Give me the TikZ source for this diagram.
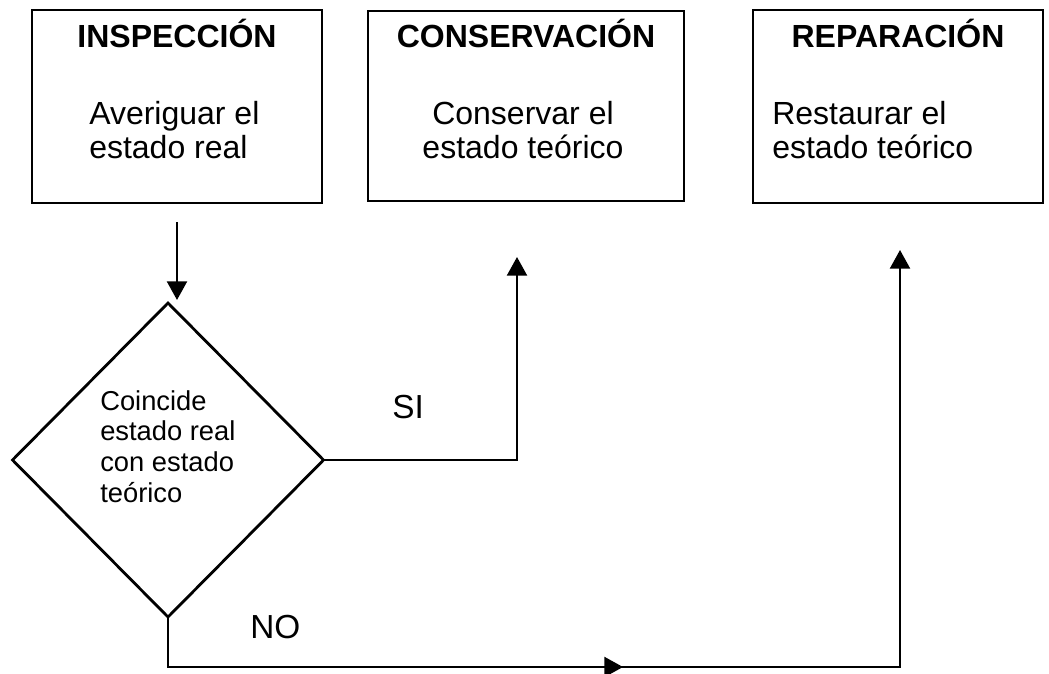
\documentclass[tikz,border=0pt]{standalone}
\usepackage{fontspec}
\setmainfont{Liberation Sans}
\usetikzlibrary{shapes.geometric,arrows.meta}
\begin{document}
\begin{tikzpicture}[x=0.75pt,y=-0.75pt,
  boxstyle/.style={draw,line width=1.7pt,rectangle,inner sep=0pt,outer sep=0pt},
  titlefont/.style={font=\fontsize{24}{27}\selectfont\bfseries,inner sep=0pt},
  bodyfont/.style={font=\fontsize{24}{25}\selectfont,inner sep=0pt},
  diafont/.style={font=\fontsize{20.5}{23}\selectfont,inner sep=0pt,align=left},
  labelfont/.style={font=\fontsize{25}{28}\selectfont,inner sep=0pt},
  decision/.style={draw,diamond,line width=2.1pt,inner sep=0pt,outer sep=0pt},
  conn/.style={line width=1.7pt},
  arr/.style={-{Triangle[length=14pt,width=15pt]}}
]
\useasboundingbox (0,0) rectangle (1049,674);

% boxes
\node[boxstyle,minimum width=217.5pt,minimum height=144.75pt] (box1) at (177,106.5) {};
\node[boxstyle,minimum width=237pt,minimum height=142.5pt] (box2) at (526,106) {};
\node[boxstyle,minimum width=217.5pt,minimum height=144.75pt] (box3) at (898,106.5) {};

% box texts (base anchor = baseline of last line)
\node[titlefont,anchor=base] (t1) at (177,48) {INSPECCIÓN};
\node[bodyfont,anchor=base west,align=left] (b1) at (89,158) {Averiguar el\\estado real};
\node[titlefont,anchor=base] (t2) at (526,48) {CONSERVACIÓN};
\node[bodyfont,anchor=base,align=center] (b2) at (523,158) {Conservar el\\estado teórico};
\node[titlefont,anchor=base] (t3) at (898,48) {REPARACIÓN};
\node[bodyfont,anchor=base west,align=left] (b3) at (772,158) {Restaurar el\\estado teórico};

% decision
\node[decision,minimum width=233.25pt,minimum height=235.5pt] (dia) at (168,460) {};
\node[diafont,anchor=base west] (dtext) at (100,502) {Coincide\\estado real\\con estado\\teórico};

% labels
\node[labelfont,anchor=base west] (si) at (392,418) {SI};
\node[labelfont,anchor=base west] (no) at (250,638) {NO};

% connector endpoints
\coordinate (siend) at (517,257);
\coordinate (noend) at (900,250);
\coordinate (nomid) at (623,667);

% connectors
\draw[conn,arr] ([yshift=-14.25pt]box1.south) -- ([yshift=2.25pt]box1.south |- dia.north);
\draw[conn,arr] (dia.east) -| (siend);
\draw[conn,arr] (dia.south) |- (nomid) -| (noend);
\draw[conn,arr] (dia.south |- nomid) -- (nomid);
\end{tikzpicture}
\end{document}
